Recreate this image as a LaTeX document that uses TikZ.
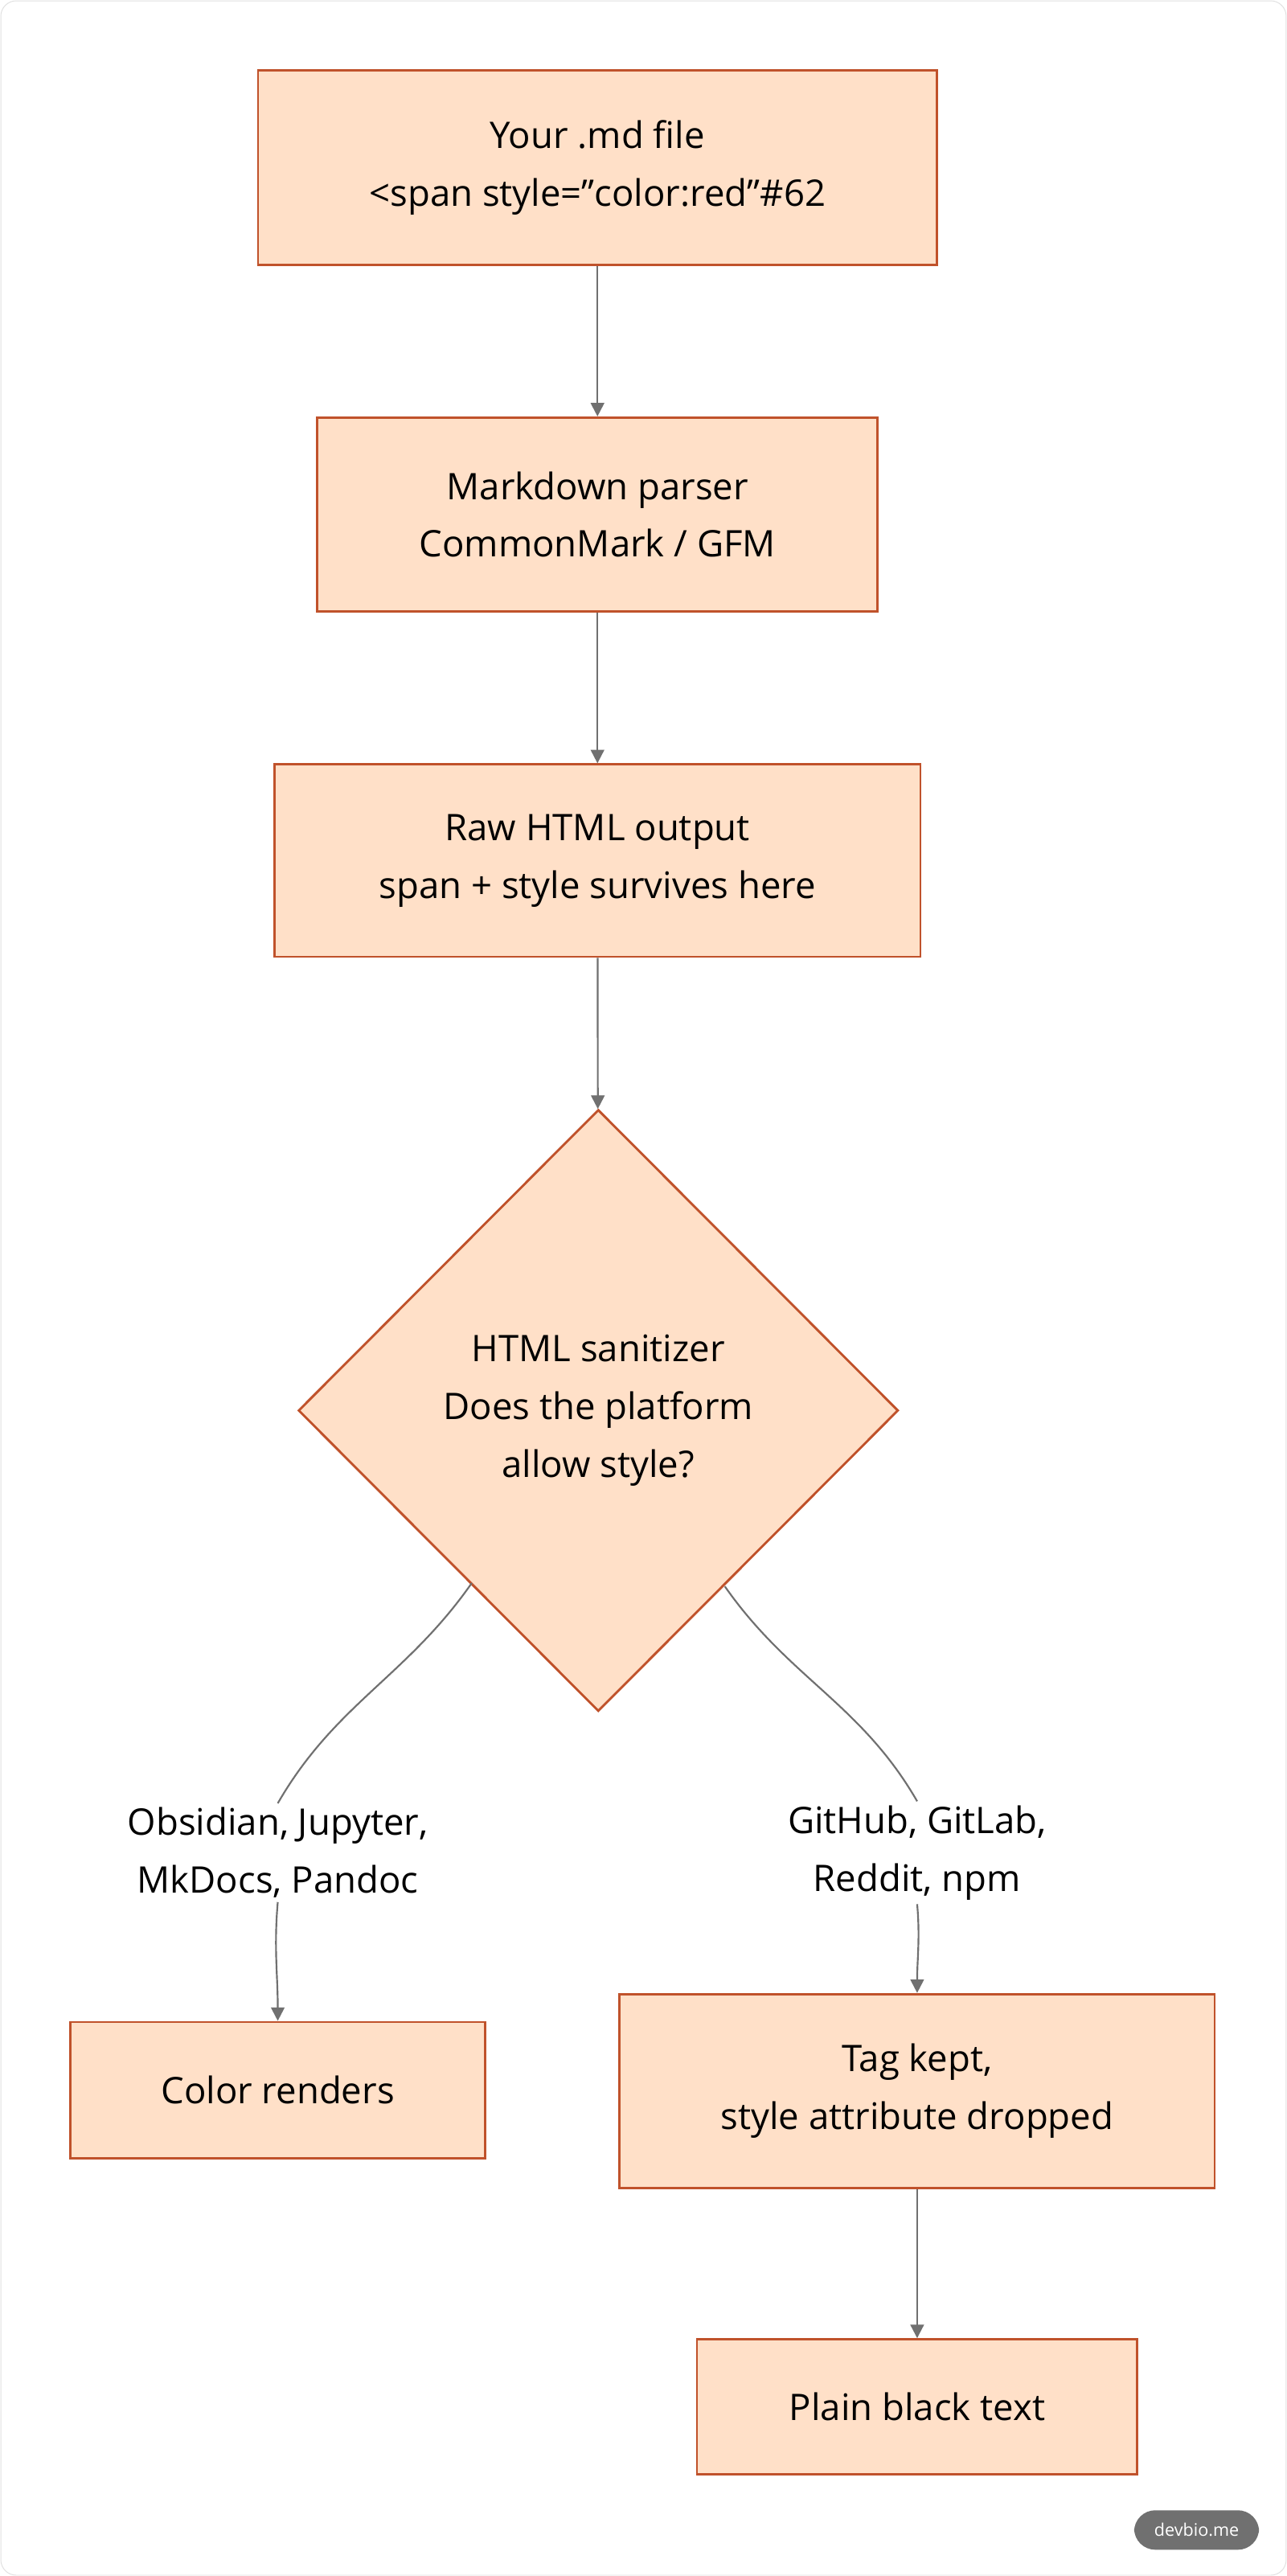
\documentclass[tikz,border=0pt]{standalone}
\usepackage{fontspec}
\setmainfont{Open Sans}
\usetikzlibrary{shapes.geometric,arrows.meta}
\definecolor{fillc}{HTML}{FFE0C8}
\definecolor{linec}{HTML}{C0522B}
\definecolor{arr}{HTML}{707070}
\begin{document}
\begin{tikzpicture}[x=0.03cm,y=-0.03cm,
 box/.style={draw=linec,fill=fillc,line width=1.2pt,align=center,font=\fontsize{19}{30}\selectfont,inner sep=0pt},
 lab/.style={align=center,font=\fontsize{19}{30}\selectfont,fill=white,inner sep=2pt},
 ar/.style={draw=arr,line width=0.9pt,-{Triangle[length=7pt,width=7pt]}},
 ln/.style={draw=arr,line width=0.9pt}]
\draw[draw=black!12,fill=white,rounded corners=8pt] (0.5,0.5) rectangle (782.5,1566.5);
\useasboundingbox (0,0) rectangle (783,1567);
\node[box,minimum width=413*0.03cm,minimum height=118*0.03cm] (a) at (363.5,102) {Your .md file\\ \textless span style="color:red"\#62};
\node[box,minimum width=341*0.03cm,minimum height=118*0.03cm] (b) at (363.5,313) {Markdown parser\\ CommonMark / GFM};
\node[box,minimum width=393*0.03cm,minimum height=117*0.03cm] (c) at (363.5,523.5) {Raw HTML output\\ span + style survives here};
\node[box,diamond,minimum width=365*0.03cm,minimum height=366*0.03cm] (d) at (364,858) {HTML sanitizer\\ Does the platform\\ allow style?};
\node[lab] (l1) at (169,1127) {Obsidian, Jupyter,\\ MkDocs, Pandoc};
\node[lab] (l2) at (558,1127) {GitHub, GitLab,\\ Reddit, npm};
\node[box,minimum width=252*0.03cm,minimum height=83*0.03cm] (e) at (169,1271.5) {Color renders};
\node[box,minimum width=362*0.03cm,minimum height=118*0.03cm] (f) at (558,1272) {Tag kept,\\ style attribute dropped};
\node[box,minimum width=268*0.03cm,minimum height=82*0.03cm] (g) at (558,1464) {Plain black text};
\coordinate (d1) at (287,963);
\coordinate (d2) at (441,965);
\draw[ar] (a) -- (b);
\draw[ar] (b) -- (c);
\draw[ar] (c) -- (d);
\draw[ln] (d1) to[out=-125,in=60] (l1.north);
\draw[ln] (d2) to[out=-55,in=120] (l2.north);
\draw[ar] (l1.south) to[out=-95,in=90] (e.north);
\draw[ar] (l2.south) to[out=-85,in=90] (f.north);
\draw[ar] (f) -- (g);
\node[fill=arr,text=white,rounded corners=11pt,minimum width=76*0.03cm,minimum height=24*0.03cm,inner sep=0pt,font=\fontsize{9}{10}\selectfont] (badge) at (728,1539) {devbio.me};
\end{tikzpicture}
\end{document}
